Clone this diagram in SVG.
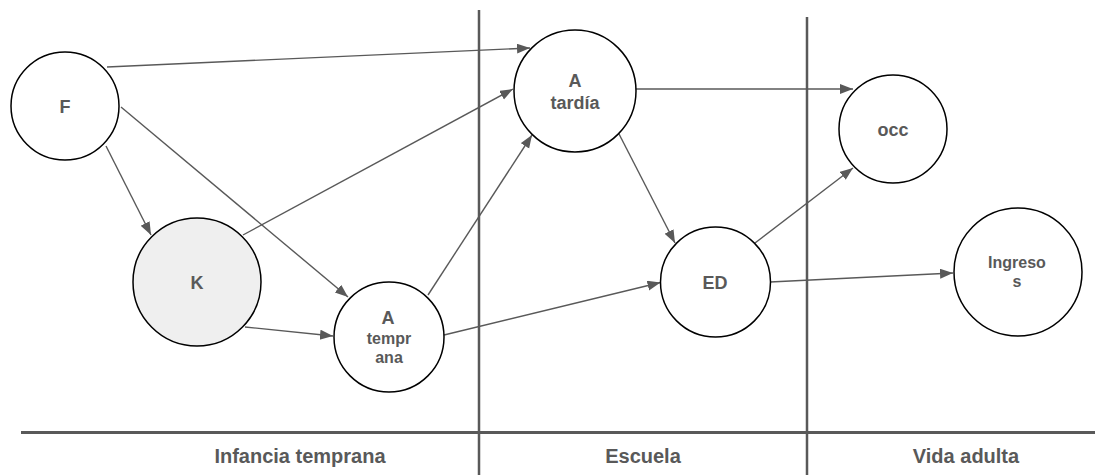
<svg xmlns="http://www.w3.org/2000/svg" width="1095" height="475" viewBox="0 0 1095 475">
<style>
.node{fill:#ffffff;stroke:#000000;stroke-width:1.5}
.lbl{font-family:"Liberation Sans",Arial,sans-serif;font-weight:bold;fill:#595959;text-anchor:middle}
.big{font-size:18px}
.sm{font-size:16px}
.edge{stroke:#595959;stroke-width:1.4;fill:none;marker-end:url(#arr)}
.frame{stroke:#595959;fill:none}
.sec{font-family:"Liberation Sans",Arial,sans-serif;font-weight:bold;font-size:20px;fill:#595959;text-anchor:middle}
</style>
<defs>
<marker id="arr" markerUnits="userSpaceOnUse" markerWidth="14" markerHeight="12" refX="13" refY="5" orient="auto">
<path d="M0,0 L13,5 L0,10 z" fill="#595959"/>
</marker>
</defs>
<g id="frame">
<line class="frame" x1="479" y1="10" x2="479" y2="475" stroke-width="2.5"/>
<line class="frame" x1="807" y1="17" x2="807" y2="475" stroke-width="2.5"/>
<line class="frame" x1="21" y1="432.5" x2="1095" y2="432.5" stroke-width="3"/>
<text class="sec" x="300" y="463">Infancia temprana</text>
<text class="sec" x="643" y="463">Escuela</text>
<text class="sec" x="966" y="463">Vida adulta</text>
</g>
<g id="connectors">
<line class="edge" x1="107" y1="67" x2="530" y2="48"/>
<line class="edge" x1="121" y1="107" x2="348" y2="297"/>
<line class="edge" x1="106" y1="146" x2="151" y2="235"/>
<line class="edge" x1="243" y1="235" x2="513" y2="89"/>
<line class="edge" x1="428" y1="295" x2="532" y2="135"/>
<line class="edge" x1="245" y1="327" x2="333" y2="336"/>
<line class="edge" x1="444" y1="335" x2="660.5" y2="282.5"/>
<line class="edge" x1="636" y1="89" x2="853" y2="89"/>
<line class="edge" x1="618" y1="132" x2="675" y2="243"/>
<line class="edge" x1="755" y1="243" x2="853" y2="168"/>
<line class="edge" x1="770" y1="282" x2="953" y2="273"/>
</g>
<g id="F">
<circle class="node" cx="65" cy="106" r="54"/>
<text class="lbl big" x="65" y="113">F</text>
</g>
<g id="K">
<circle class="node" cx="197" cy="282" r="64" fill="#efefef" style="fill:#efefef"/>
<text class="lbl big" x="197" y="289">K</text>
</g>
<g id="A_temprana">
<circle class="node" cx="389" cy="337" r="55"/>
<text class="lbl big" x="388" y="324">A</text>
<text class="lbl sm" x="389" y="344">tempr</text>
<text class="lbl sm" x="389" y="363">ana</text>
</g>
<g id="A_tardia">
<circle class="node" cx="575" cy="91" r="61"/>
<text class="lbl big" x="575" y="87">A</text>
<text class="lbl big" x="575" y="109">tardía</text>
</g>
<g id="occ">
<circle class="node" cx="893" cy="129" r="54"/>
<text class="lbl big" x="893" y="136">occ</text>
</g>
<g id="ED">
<circle class="node" cx="715.5" cy="282" r="55"/>
<text class="lbl big" x="715" y="289">ED</text>
</g>
<g id="Ingresos">
<circle class="node" cx="1018" cy="272" r="64"/>
<text class="lbl sm" x="1017" y="268">Ingreso</text>
<text class="lbl sm" x="1017" y="287">s</text>
</g>
</svg>
